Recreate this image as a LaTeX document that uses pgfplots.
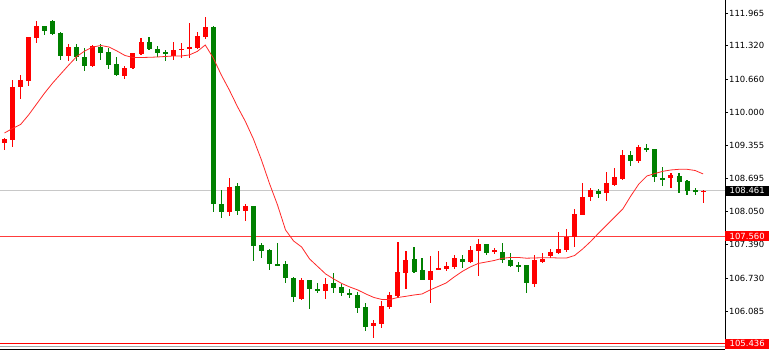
\documentclass[border=0pt]{standalone}
\usepackage{pgfplots}
\pgfplotsset{compat=1.18}
\usepackage{pgfplotstable}
\usepackage{fontspec}
\setmainfont{DejaVu Sans}
\definecolor{cred}{RGB}{255,0,0}
\definecolor{cgreen}{RGB}{0,128,0}
\definecolor{maline}{RGB}{255,40,40}
\definecolor{hred}{RGB}{255,60,60}
\definecolor{hgray}{RGB}{200,200,200}

% up candles (red): index, open, high, low, close
\pgfplotstableread{
i o h l c
0 109.406 109.499 109.262 109.473
1 109.460 110.643 109.315 110.511
2 110.499 110.736 110.268 110.637
3 110.624 111.498 110.525 111.486
4 111.478 111.808 111.368 111.709
8 111.117 111.360 111.012 111.289
11 110.920 111.330 110.910 111.320
15 110.728 110.920 110.657 110.886
16 110.880 111.180 110.860 111.170
17 111.156 111.472 111.137 111.399
21 111.123 111.399 111.038 111.241
22 111.235 111.368 111.072 111.261
23 111.255 111.762 111.072 111.289
24 111.281 111.585 111.249 111.512
25 111.486 111.887 111.458 111.683
28 108.045 108.716 107.960 108.538
30 108.065 108.203 107.861 108.157
37 106.316 106.730 106.310 106.691
40 106.486 106.742 106.316 106.624
46 105.789 105.908 105.547 105.842
47 105.823 106.283 105.744 106.190
48 106.170 106.466 106.119 106.401
49 106.387 107.453 106.336 106.861
50 106.829 107.269 106.519 107.092
53 106.697 107.171 106.237 106.880
54 106.900 107.269 106.890 106.928
55 106.908 107.058 106.875 106.967
56 106.948 107.190 106.914 107.125
58 107.052 107.368 107.040 107.289
59 107.269 107.500 106.776 107.401
61 107.260 107.323 107.210 107.285
66 106.618 107.190 106.565 107.092
67 107.060 107.224 107.040 107.110
68 107.171 107.303 107.137 107.256
69 107.236 107.650 107.210 107.309
70 107.289 107.698 107.256 107.552
71 107.552 108.098 107.354 108.000
72 107.980 108.605 107.970 108.329
73 108.329 108.507 108.262 108.473
75 108.408 108.834 108.262 108.605
76 108.572 108.901 108.550 108.723
77 108.690 109.262 108.670 109.163
79 109.051 109.361 108.999 109.315
83 108.704 108.814 108.507 108.769
87 108.440 108.470 108.222 108.461
}\upT

% down candles (green)
\pgfplotstableread{
i o h l c
5 111.703 111.709 111.537 111.616
6 111.808 111.820 111.525 111.557
7 111.571 111.585 111.038 111.123
9 111.289 111.360 111.024 111.091
10 111.091 111.281 110.821 110.920
12 111.301 111.348 111.038 111.182
13 111.190 111.281 110.860 110.939
14 110.959 111.091 110.722 110.736
18 111.399 111.492 111.235 111.261
19 111.261 111.320 111.103 111.170
20 111.190 111.235 111.018 111.162
26 111.695 111.715 108.045 108.191
27 108.197 108.473 107.914 108.045
29 108.546 108.617 107.980 108.065
31 108.157 108.165 107.078 107.368
32 107.382 107.433 107.125 107.275
33 107.289 107.309 106.894 107.007
34 107.019 107.421 106.970 106.979
35 107.007 107.072 106.632 106.730
36 106.742 106.750 106.257 106.368
38 106.691 106.700 106.119 106.519
39 106.525 106.632 106.435 106.474
41 106.632 106.829 106.447 106.533
42 106.553 106.610 106.381 106.441
43 106.447 106.525 106.348 106.395
44 106.401 106.466 106.040 106.139
45 106.158 106.249 105.697 105.775
51 107.105 107.354 106.829 106.861
52 106.894 107.125 106.690 106.697
57 107.105 107.190 106.928 107.058
60 107.401 107.410 107.190 107.236
62 107.256 107.421 107.027 107.092
63 107.092 107.224 106.960 106.973
64 106.987 107.058 106.861 106.962
65 106.993 107.000 106.435 106.632
74 108.459 108.500 108.309 108.394
78 109.163 109.248 108.952 109.051
80 109.296 109.380 109.229 109.262
81 109.282 109.290 108.637 108.723
82 108.710 108.921 108.552 108.685
84 108.755 108.814 108.420 108.625
85 108.651 108.670 108.374 108.459
86 108.470 108.510 108.374 108.440
}\downT

% moving average
\pgfplotstableread{
i ma
0 109.598
1 109.686
2 109.765
3 109.953
4 110.170
5 110.387
6 110.584
7 110.762
8 110.939
9 111.107
10 111.216
11 111.295
12 111.324
13 111.295
14 111.216
15 111.127
16 111.087
17 111.087
18 111.091
19 111.097
20 111.107
21 111.117
22 111.117
23 111.137
24 111.206
25 111.334
26 111.078
27 110.742
28 110.446
29 110.121
30 109.825
31 109.479
32 109.065
33 108.601
34 108.177
35 107.684
36 107.467
37 107.348
38 107.111
39 106.963
40 106.815
41 106.717
42 106.628
43 106.559
44 106.500
45 106.421
46 106.352
47 106.312
48 106.312
49 106.352
50 106.375
51 106.401
52 106.421
53 106.500
54 106.569
55 106.638
56 106.756
57 106.865
58 106.954
59 107.023
60 107.052
61 107.082
62 107.125
63 107.141
64 107.141
65 107.127
66 107.131
67 107.137
68 107.137
69 107.131
70 107.131
71 107.180
72 107.309
73 107.457
74 107.624
75 107.782
76 107.940
77 108.098
78 108.355
79 108.591
80 108.749
81 108.798
82 108.842
83 108.868
84 108.881
85 108.881
86 108.858
87 108.790
}\maT

\begin{document}
\begin{tikzpicture}
\path[use as bounding box] (0,0) rectangle (770bp,352bp);
\begin{axis}[
  at={(0,352bp)}, anchor=north west,
  scale only axis, width=725bp, height=349bp,
  xmin=-0.56, xmax=89.73, ymin=105.335, ymax=112.222,
  axis x line*=bottom, axis y line*=right,
  xtick=\empty,
  ytick={106.085,106.730,107.390,108.050,108.695,109.355,110.000,110.660,111.320,111.965},
  yticklabels={106.085,106.730,107.390,108.050,108.695,109.355,110.000,110.660,111.320,111.965},
  tick align=outside, major tick length=3bp,
  tick style={black, line width=0.8bp},
  yticklabel style={font=\fontsize{8.5}{10}\selectfont, inner sep=1bp},
  axis line style={line width=1bp, black},
  clip=false,
]
% reference lines
\addplot[hgray, line width=0.8bp, forget plot] coordinates {(-0.56,108.461) (89.73,108.461)};
\addplot[hred, line width=1.4bp, forget plot] coordinates {(-0.56,107.560) (89.73,107.560)};
\addplot[cred, line width=1bp, forget plot] coordinates {(-0.56,105.436) (89.73,105.436)};
\addplot[gray!70, line width=0.8bp, forget plot] coordinates {(-0.56,105.384) (89.73,105.384)};
% wicks
\addplot[draw=none, mark=none, forget plot,
  error bars/.cd, y dir=both, y explicit, error mark=none,
  error bar style={draw=cred, solid, line width=1.1bp}]
  table[x=i, y expr={(\thisrow{h}+\thisrow{l})/2}, y error expr={(\thisrow{h}-\thisrow{l})/2}] {\upT};
\addplot[draw=none, mark=none, forget plot,
  error bars/.cd, y dir=both, y explicit, error mark=none,
  error bar style={draw=cgreen, solid, line width=1.1bp}]
  table[x=i, y expr={(\thisrow{h}+\thisrow{l})/2}, y error expr={(\thisrow{h}-\thisrow{l})/2}] {\downT};
% bodies
\addplot[draw=none, mark=none, forget plot,
  error bars/.cd, y dir=both, y explicit, error mark=none,
  error bar style={draw=cred, solid, line width=5bp}]
  table[x=i, y expr={(\thisrow{o}+\thisrow{c})/2}, y error expr={max(abs(\thisrow{c}-\thisrow{o})/2,0.012)}] {\upT};
\addplot[draw=none, mark=none, forget plot,
  error bars/.cd, y dir=both, y explicit, error mark=none,
  error bar style={draw=cgreen, solid, line width=5bp}]
  table[x=i, y expr={(\thisrow{o}+\thisrow{c})/2}, y error expr={max(abs(\thisrow{c}-\thisrow{o})/2,0.012)}] {\downT};
% moving average
\addplot[maline, line width=0.8bp, mark=none, forget plot] table[x=i, y=ma] {\maT};
% price labels
\node[fill=black, text=white, anchor=west, minimum width=44bp, minimum height=10bp, inner sep=0pt, font=\fontsize{8.5}{10}\selectfont] at (axis cs:89.73,108.461) {108.461};
\node[fill=cred, text=white, anchor=west, minimum width=44bp, minimum height=10bp, inner sep=0pt, font=\fontsize{8.5}{10}\selectfont] at (axis cs:89.73,107.560) {107.560};
\node[fill=cred, text=white, anchor=west, minimum width=44bp, minimum height=10bp, inner sep=0pt, font=\fontsize{8.5}{10}\selectfont] at (axis cs:89.73,105.436) {105.436};
\end{axis}
\end{tikzpicture}
\end{document}
